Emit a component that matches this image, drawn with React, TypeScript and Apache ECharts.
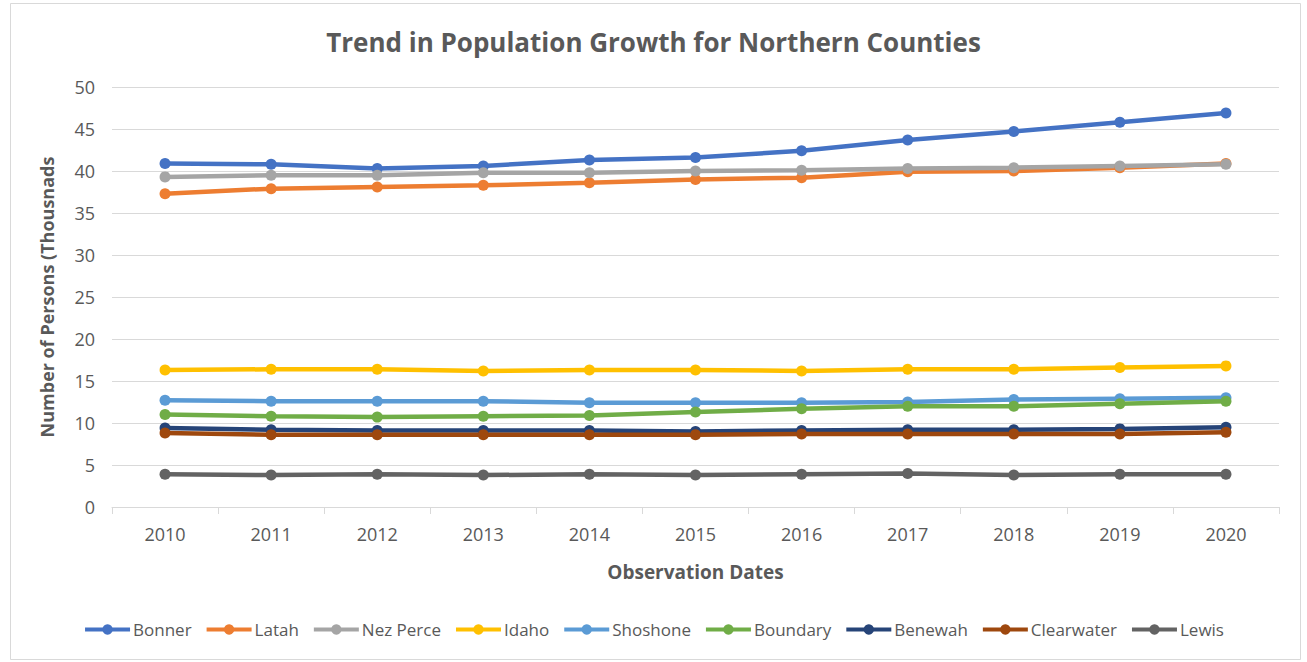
import React, { useEffect, useRef } from "react";
import * as echarts from "echarts";

const years = ["2010", "2011", "2012", "2013", "2014", "2015", "2016", "2017", "2018", "2019", "2020"];
const bonner = [40.9, 40.8, 40.3, 40.6, 41.3, 41.6, 42.4, 43.7, 44.7, 45.8, 46.9];
const latah = [37.3, 37.9, 38.1, 38.3, 38.6, 39.0, 39.2, 39.9, 40.0, 40.4, 40.9];
const nezPerce = [39.3, 39.5, 39.5, 39.8, 39.8, 40.0, 40.1, 40.3, 40.4, 40.6, 40.8];
const idaho = [16.3, 16.4, 16.4, 16.2, 16.3, 16.3, 16.2, 16.4, 16.4, 16.6, 16.8];
const shoshone = [12.7, 12.6, 12.6, 12.6, 12.4, 12.4, 12.4, 12.5, 12.8, 12.9, 13.0];
const boundary = [11.0, 10.8, 10.7, 10.8, 10.9, 11.3, 11.7, 12.0, 12.0, 12.3, 12.6];
const benewah = [9.4, 9.2, 9.1, 9.1, 9.1, 9.0, 9.1, 9.2, 9.2, 9.3, 9.5];
const clearwater = [8.8, 8.6, 8.6, 8.6, 8.6, 8.6, 8.7, 8.7, 8.7, 8.7, 8.9];
const lewis = [3.9, 3.8, 3.9, 3.8, 3.9, 3.8, 3.9, 4.0, 3.8, 3.9, 3.9];

const seriesNames = ["Bonner", "Latah", "Nez Perce", "Idaho", "Shoshone", "Boundary", "Benewah", "Clearwater", "Lewis"];
const seriesData = [bonner, latah, nezPerce, idaho, shoshone, boundary, benewah, clearwater, lewis];
const colors = ["#4472C4", "#ED7D31", "#A5A5A5", "#FFC000", "#5B9BD5", "#70AD47", "#264478", "#9E480E", "#636363"];

const FONT = "'Open Sans', sans-serif";

export default function App() {
  const ref = useRef<HTMLDivElement>(null);
  useEffect(() => {
    if (!ref.current) return;
    const chart = echarts.init(ref.current, undefined, { renderer: "svg" });
    chart.setOption({
      animation: false,
      backgroundColor: "#ffffff",
      color: colors,
      textStyle: { fontFamily: FONT },
      title: {
        text: "Trend in Population Growth for Northern Counties",
        left: "center",
        top: 24,
        textStyle: { fontFamily: FONT, fontSize: 26, fontWeight: "bold", color: "#595959" },
      },
      graphic: [
        {
          type: "rect",
          shape: { x: 10.5, y: 3.5, width: 1290, height: 656 },
          style: { fill: "none", stroke: "#d9d9d9", lineWidth: 1 },
          silent: true,
        },
      ],
      legend: {
        bottom: 19,
        left: "center",
        itemWidth: 45,
        itemHeight: 13,
        itemGap: 13,
        lineStyle: { width: 4 },
        textStyle: { fontFamily: FONT, fontSize: 17, color: "#595959", padding: [0, 0, 0, -2] },
        data: seriesNames,
      },
      grid: { left: 112, right: 28, top: 87, bottom: 155 },
      xAxis: {
        type: "category",
        data: years,
        boundaryGap: true,
        name: "Observation Dates",
        nameLocation: "middle",
        nameGap: 55,
        nameTextStyle: { fontFamily: FONT, fontSize: 19, fontWeight: "bold", color: "#595959" },
        axisLine: { lineStyle: { color: "#d9d9d9", width: 1 } },
        axisTick: { show: true, alignWithLabel: false, length: 7, lineStyle: { color: "#d9d9d9" } },
        axisLabel: { fontFamily: FONT, fontSize: 18, color: "#595959", margin: 18 },
      },
      yAxis: {
        type: "value",
        min: 0,
        max: 50,
        interval: 5,
        name: "Number of Persons (Thousnads",
        nameLocation: "middle",
        nameGap: 56,
        nameTextStyle: { fontFamily: FONT, fontSize: 18, fontWeight: "bold", color: "#595959" },
        axisLine: { show: false },
        axisTick: { show: false },
        axisLabel: { fontFamily: FONT, fontSize: 18, color: "#595959", margin: 17 },
        splitLine: { lineStyle: { color: "#d9d9d9", width: 1 } },
      },
      series: seriesNames.map((name, i) => ({
        name,
        type: "line",
        data: seriesData[i],
        symbol: "circle",
        symbolSize: 11,
        lineStyle: { width: 4.5, color: colors[i] },
        itemStyle: { color: colors[i] },
      })),
    });
    return () => chart.dispose();
  }, []);
  return <div ref={ref} style={{ position: "fixed", left: 0, top: 0, width: 1307, height: 662 }} />;
}
